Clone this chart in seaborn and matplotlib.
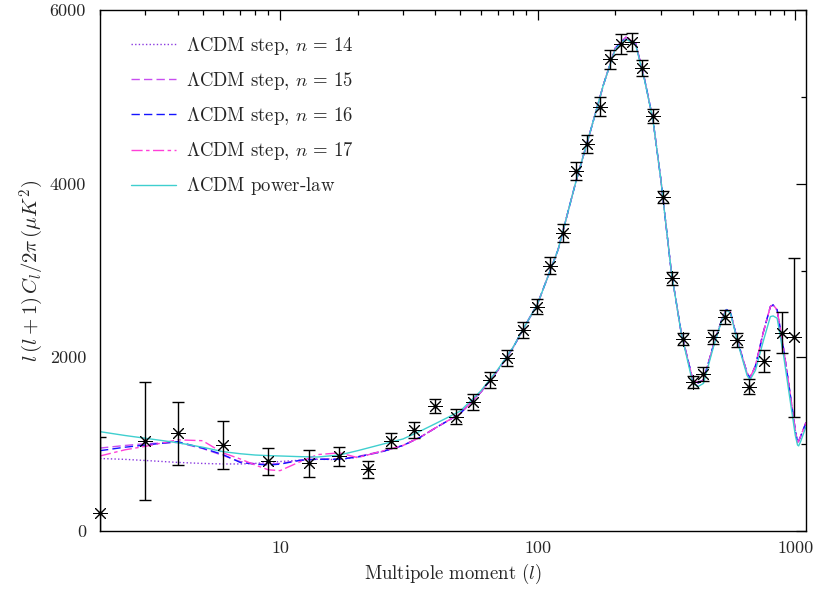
import matplotlib
matplotlib.use("Agg")
import matplotlib.pyplot as plt
from matplotlib.ticker import FixedLocator, FixedFormatter, NullFormatter
import pandas as pd
import seaborn as sns

# ---- model spectra l(l+1)C_l/2pi in muK^2 ----
# low multipoles, where the step models differ
L_LOW = [2, 2.5, 3, 4, 5, 6, 7, 8, 9, 10, 12, 14, 17, 20, 25]
STEP14_LOW = [835, 825, 812, 790, 778, 772, 772, 778, 790, 800, 815, 826, 822, 850, 915]
STEP15_LOW = [955, 985, 1005, 1020, 950, 870, 800, 775, 768, 778, 815, 830, 830, 858, 920]
STEP16_LOW = [925, 965, 990, 1029, 955, 880, 790, 770, 760, 770, 815, 826, 826, 852, 915]
STEP17_LOW = [864, 935, 975, 1050, 1040, 900, 830, 760, 705, 695, 800, 880, 900, 845, 922]
POWER_LOW = [1144, 1100, 1068, 1017, 965, 914, 890, 875, 868, 864, 856, 852, 875, 925, 1000]

# acoustic peak region, common to all step models
L_HIGH = [30, 35, 40, 50, 60, 70, 80, 90, 100, 120, 140, 160, 180, 200, 220, 240, 260,
          280, 300, 330, 360, 400, 420, 440, 480, 520, 540, 560, 600, 650, 667, 700,
          750, 800, 820, 850, 900, 950, 1000, 1020, 1030, 1050, 1100]
STEP_HIGH = [985, 1080, 1185, 1352, 1595, 1850, 2105, 2380, 2620, 3240, 4000, 4600, 5140,
             5560, 5685, 5615, 5200, 4740, 4068, 2988, 2297, 1740, 1705, 1740, 2130, 2450,
             2550, 2520, 2166, 1816, 1766, 1900, 2281, 2585, 2604, 2546, 2100, 1624, 1160,
             1015, 1035, 1094, 1250]
POWER_HIGH = [1060, 1150, 1235, 1380, 1610, 1860, 2110, 2380, 2620, 3240, 4000, 4600, 5140,
              5550, 5665, 5600, 5190, 4735, 4068, 2988, 2290, 1700, 1665, 1700, 2110, 2440,
              2545, 2510, 2150, 1790, 1740, 1850, 2181, 2469, 2477, 2450, 2023, 1547, 1100,
              990, 980, 1035, 1202]

# ---- binned band powers with 1-sigma errors ----
DATA_L = [2, 3, 4, 6, 9, 13, 17, 22, 27, 33, 40, 48, 56, 65, 76, 88, 99, 112, 125, 141,
          156, 174, 191, 210, 232, 254, 279, 307, 332, 365, 399, 437, 481, 535, 593, 663,
          756, 891, 989]
DATA_CL = [205, 1040, 1125, 992, 805, 780, 860, 712, 1037, 1164, 1440, 1317, 1486, 1740,
           1993, 2316, 2584, 3056, 3433, 4147, 4455, 4885, 5434, 5611, 5634, 5331, 4777,
           3848, 2908, 2212, 1720, 1805, 2232, 2469, 2200, 1662, 1958, 2285, 2230]
DATA_ERR = [880, 680, 365, 278, 155, 153, 111, 98, 86, 90, 80, 90, 90, 90, 90, 90, 90, 100,
            100, 105, 105, 110, 110, 115, 105, 95, 80, 70, 70, 70, 70, 80, 80, 80, 80, 85,
            130, 235, 912]

MODELS = [
    (r"$\Lambda$CDM step, $n\,=\,14$", STEP14_LOW + STEP_HIGH),
    (r"$\Lambda$CDM step, $n\,=\,15$", STEP15_LOW + STEP_HIGH),
    (r"$\Lambda$CDM step, $n\,=\,16$", STEP16_LOW + STEP_HIGH),
    (r"$\Lambda$CDM step, $n\,=\,17$", STEP17_LOW + STEP_HIGH),
    (r"$\Lambda$CDM power-law", POWER_LOW + POWER_HIGH),
]
L_ALL = L_LOW + L_HIGH

names = [m[0] for m in MODELS]
colors = dict(zip(names, ["#8a3ae0", "#c84ef0", "#1414ff", "#ff3fd8", "#3fcfcf"]))
dashes = dict(zip(names, [(1, 1.6), (6, 3), (6, 3), (8, 2.5, 2.5, 2.5), ""]))

rows = []
for name, vals in MODELS:
    for l, v in zip(L_ALL, vals):
        rows.append({"l": l, "cl": v, "model": name})
df = pd.DataFrame(rows)

sns.set_theme(style="white")
plt.rcParams.update({
    "font.family": "serif",
    "font.serif": ["cmr10"],
    "mathtext.fontset": "cm",
    "axes.formatter.use_mathtext": True,
    "axes.unicode_minus": False,
    "axes.edgecolor": "black",
    "axes.linewidth": 1.0,
})

fig = plt.figure(figsize=(8.17, 5.89), dpi=100)
ax = fig.add_axes([100 / 817, 1 - 531 / 589, 706 / 817, 521 / 589])

sns.lineplot(data=df, x="l", y="cl", hue="model", style="model",
             hue_order=names, style_order=names, palette=colors, dashes=dashes,
             estimator=None, sort=False, linewidth=1.0, ax=ax)

ax.errorbar(DATA_L, DATA_CL, yerr=DATA_ERR, fmt="none", ecolor="black",
            elinewidth=1.0, capsize=4.3, capthick=1.0, zorder=5)
ax.plot(DATA_L, DATA_CL, ls="none", marker=(8, 2, 0), ms=10.5, mec="black", mew=0.7,
        color="black", clip_on=False, zorder=6)
ax.plot(DATA_L, DATA_CL, ls="none", marker="o", ms=2.0, color="black",
        clip_on=False, zorder=7)

ax.set_xscale("log")
ax.set_xlim(2, 1100)
ax.set_ylim(0, 6000)

ax.xaxis.set_major_locator(FixedLocator([10, 100, 1000]))
ax.xaxis.set_major_formatter(FixedFormatter(["10", "100", "1000"]))
ax.xaxis.set_minor_locator(FixedLocator([m * d for d in (1, 10, 100) for m in range(2, 10)
                                         if m * d <= 1100] + [1100]))
ax.xaxis.set_minor_formatter(NullFormatter())
ax.yaxis.set_major_locator(FixedLocator([0, 2000, 4000, 6000]))
ax.yaxis.set_major_formatter(FixedFormatter(["0", "2000", "4000", "6000"]))
ax.yaxis.set_minor_locator(FixedLocator([1000, 3000, 5000]))

ax.tick_params(which="both", direction="in", top=True, right=True, color="black",
               labelsize=13, width=0.9)
ax.tick_params(which="major", length=7)
ax.tick_params(which="minor", length=3.5)
ax.tick_params(axis="y", pad=10)
ax.tick_params(axis="x", pad=7)

ax.set_xlabel(r"Multipole moment $(l)$", fontsize=13.5, labelpad=4)
ax.set_ylabel(r"$l\,(l+1)\,C_l/2\pi\,(\mu K^2)$", fontsize=15, labelpad=3)

handles, labels = ax.get_legend_handles_labels()
ax.legend(handles, labels, loc="upper left", bbox_to_anchor=(0.02, 0.985), frameon=False,
          fontsize=13.5, handlelength=2.4, handletextpad=0.55, labelspacing=0.7)

for side in ("top", "right", "bottom", "left"):
    ax.spines[side].set_visible(True)
    ax.spines[side].set_color("black")

fig.savefig("out.png", dpi=100)
